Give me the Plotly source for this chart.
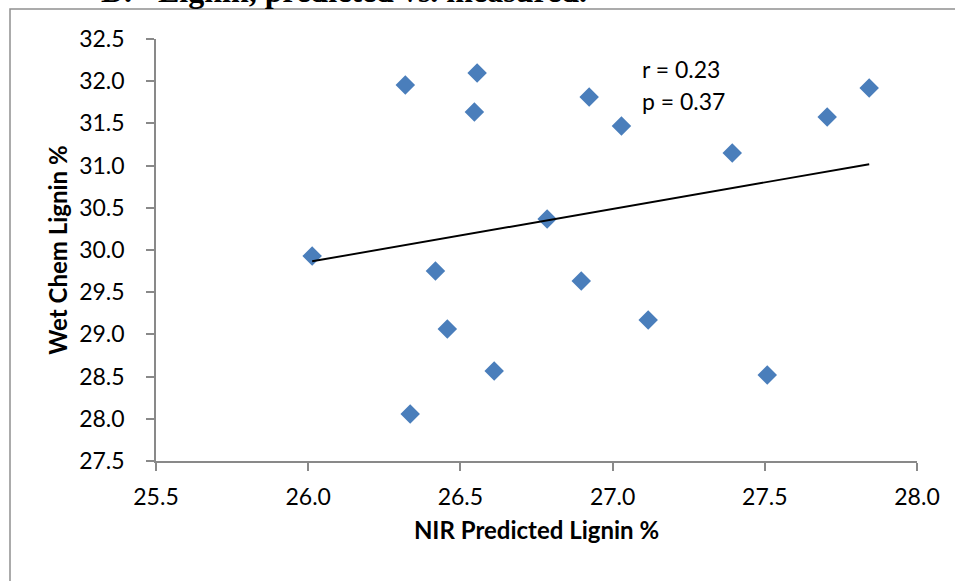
import numpy as np
import plotly.graph_objects as go

# Data
nir_predicted = [26.013, 26.319, 26.555, 26.546, 26.923, 27.029, 27.393, 27.705, 27.843,
                 26.785, 26.418, 26.897, 26.457, 27.117, 26.611, 26.335, 27.508]
wet_chem = [29.93, 31.955, 32.097, 31.635, 31.813, 31.469, 31.149, 31.576, 31.919,
            30.367, 29.751, 29.633, 29.064, 29.171, 28.566, 28.057, 28.519]

x_range = [25.5, 28.0]
y_range = [27.5, 32.5]
tick_step = 0.5

x_title = "NIR Predicted Lignin %"
y_title = "Wet Chem Lignin %"
stats_lines = ["r = 0.23", "p = 0.37"]
panel_label = "D."
panel_title = "Lignin, predicted vs. measured."

# Linear least-squares trendline from the data
slope, intercept = np.polyfit(nir_predicted, wet_chem, 1)
trend_x = [min(nir_predicted), max(nir_predicted)]
trend_y = [slope * v + intercept for v in trend_x]

W, H = 955, 581
ml, mr, mt, mb = 156, 38, 39, 120
pw, ph = W - ml - mr, H - mt - mb


def px_x(p):
    return (p - ml) / pw


def px_y(p):
    return (H - mb - p) / ph


AX = "#898989"
TICK_FONT = dict(family="Lato", size=23, color="#000000")
TITLE_FONT = dict(family="Lato", size=24, color="#000000", weight="bold")

fig = go.Figure()
fig.add_trace(go.Scatter(
    x=nir_predicted, y=wet_chem, mode="markers",
    marker=dict(symbol="diamond", size=15, color="#4A7EBB", line=dict(width=0)),
    showlegend=False, hoverinfo="x+y",
))
fig.add_trace(go.Scatter(
    x=trend_x, y=trend_y, mode="lines",
    line=dict(color="#000000", width=1.9),
    showlegend=False, hoverinfo="skip",
))

fig.update_layout(
    width=W, height=H,
    margin=dict(l=ml, r=mr, t=mt, b=mb, pad=0),
    paper_bgcolor="#ffffff", plot_bgcolor="#ffffff",
    showlegend=False,
    xaxis=dict(
        range=x_range, dtick=tick_step, tick0=x_range[0], tickformat=".1f",
        showgrid=False, zeroline=False, showline=True, linecolor=AX, linewidth=1.5,
        ticks="outside", ticklen=8, tickcolor=AX, tickwidth=1.5,
        tickfont=TICK_FONT, ticklabelstandoff=7,
        title=dict(text=x_title, font=TITLE_FONT, standoff=13),
        automargin=False,
    ),
    yaxis=dict(
        range=y_range, dtick=tick_step, tick0=y_range[0], tickformat=".1f",
        showgrid=False, zeroline=False, showline=True, linecolor=AX, linewidth=1.5,
        ticks="outside", ticklen=8, tickcolor=AX, tickwidth=1.5,
        tickfont=TICK_FONT, ticklabelstandoff=17,
        title=dict(text=y_title, font=TITLE_FONT, standoff=5),
        automargin=False,
    ),
)

# Outer chart frame (partly outside the visible window)
fig.add_shape(type="rect", xref="paper", yref="paper",
              x0=px_x(10), x1=px_x(1100), y0=px_y(800), y1=px_y(9),
              line=dict(color="#909090", width=1.5), fillcolor="rgba(0,0,0,0)", layer="below")

# Statistics text
for i, t in enumerate(stats_lines):
    fig.add_annotation(text=t, xref="paper", yref="paper",
                       x=px_x(640), y=px_y(69 + 32 * i), xanchor="left", yanchor="middle",
                       showarrow=False, font=TICK_FONT)

# Panel title (cut off at top of the window, as in the source figure)
serif = dict(family="Liberation Serif", size=32, color="#000000", weight="bold")
fig.add_annotation(text=panel_label, xref="paper", yref="paper", x=px_x(99), y=px_y(11),
                   xanchor="left", yanchor="bottom", showarrow=False, font=serif)
fig.add_annotation(text=panel_title, xref="paper", yref="paper", x=px_x(156), y=px_y(11),
                   xanchor="left", yanchor="bottom", showarrow=False, font=serif)

fig.write_html("out.html")
